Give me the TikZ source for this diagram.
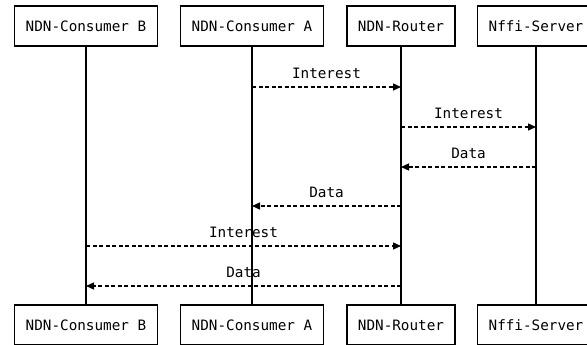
\documentclass[tikz,border=0pt]{standalone}
\usepackage{fontspec}
\setmonofont{DejaVu Sans Mono}
\usetikzlibrary{arrows.meta}
\tikzset{
  actor/.style={draw, line width=1.4pt, minimum height=40pt, inner xsep=11pt,
    font=\ttfamily\fontsize{14.3}{16}\selectfont},
  lifeline/.style={line width=1.3pt},
  msg/.style={line width=1.3pt, dash pattern=on 4pt off 2.5pt,
    -{Triangle[length=8pt,width=7pt]}},
  msglabel/.style={midway, yshift=14pt, font=\ttfamily\fontsize{14.3}{16}\selectfont}
}
\begin{document}
\begin{tikzpicture}[x=1pt,y=-1pt]
  \useasboundingbox (0,0) rectangle (587,345);
  \clip (0,0) rectangle (587,345);
  % participants, top row
  \node[actor] (tB) at (86,26)  {NDN-Consumer B};
  \node[actor] (tA) at (252,26) {NDN-Consumer A};
  \node[actor] (tR) at (401,26) {NDN-Router};
  \node[actor] (tS) at (536,26) {Nffi-Server};
  % participants, bottom row
  \node[actor] (bB) at (86,325)  {NDN-Consumer B};
  \node[actor] (bA) at (252,325) {NDN-Consumer A};
  \node[actor] (bR) at (401,325) {NDN-Router};
  \node[actor] (bS) at (536,325) {Nffi-Server};
  % lifelines
  \draw[lifeline] (tB) -- (bB);
  \draw[lifeline] (tA) -- (bA);
  \draw[lifeline] (tR) -- (bR);
  \draw[lifeline] (tS) -- (bS);
  % messages
  \draw[msg] (tA |- 0,87)  -- node[msglabel] {Interest} (tR |- 0,87);
  \draw[msg] (tR |- 0,127) -- node[msglabel] {Interest} (tS |- 0,127);
  \draw[msg] (tS |- 0,167) -- node[msglabel] {Data} (tR |- 0,167);
  \draw[msg] (tR |- 0,206) -- node[msglabel] {Data} (tA |- 0,206);
  \draw[msg] (tB |- 0,246) -- node[msglabel] {Interest} (tR |- 0,246);
  \draw[msg] (tR |- 0,286) -- node[msglabel] {Data} (tB |- 0,286);
\end{tikzpicture}
\end{document}
